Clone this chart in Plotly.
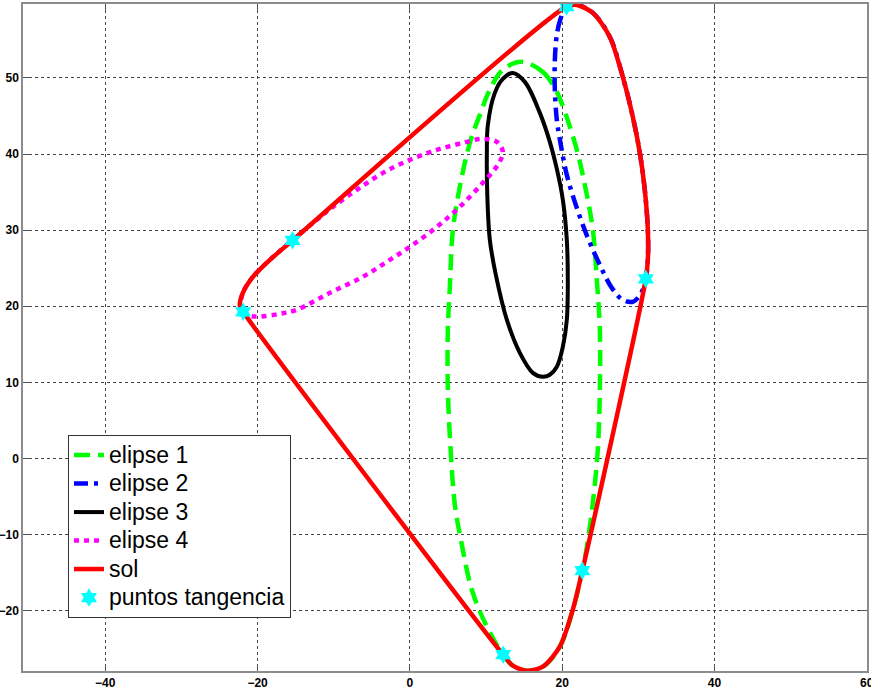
import plotly.graph_objects as go

# ---- data ----
elipse1_x = [14.70, 17.46, 19.30, 20.48, 21.93, 23.11, 24.03, 24.55, 24.95, 24.95, 24.68, 24.03, 23.24, 22.65,
             21.40, 19.69, 17.46, 15.36, 13.52, 12.25, 10.11, 8.14, 6.83, 5.91, 5.38, 4.99, 4.99, 5.25, 5.65,
             6.56, 7.88, 9.19, 10.50, 12.21, 14.70]
elipse1_y = [52.10, 50.78, 48.16, 45.14, 40.54, 35.29, 30.04, 23.47, 16.91, 9.03, 1.16, -5.80, -11.58, -14.73,
             -19.85, -24.71, -27.33, -27.86, -27.20, -25.76, -22.08, -17.23, -11.32, -6.07, 0.76, 9.03, 16.91,
             22.56, 30.04, 35.68, 41.46, 45.14, 48.42, 51.05, 52.10]

elipse2_x = [20.57, 19.82, 19.30, 19.04, 19.04, 19.30, 19.82, 20.61, 21.79, 23.37, 24.95, 26.52, 27.96, 29.28,
             30.33, 30.98, 31.25, 31.25, 30.85, 30.20, 29.28, 27.96, 26.26, 24.03, 21.93, 20.57]
elipse2_y = [59.36, 57.87, 55.64, 52.36, 48.42, 44.48, 41.20, 37.26, 33.32, 28.99, 25.44, 22.42, 20.85, 20.59,
             21.64, 23.61, 26.10, 30.04, 35.29, 40.15, 44.87, 50.13, 55.38, 58.53, 59.58, 59.36]

elipse3_x = [13.52, 15.10, 17.07, 18.38, 19.30, 20.09, 20.61, 20.74, 20.61, 20.09, 19.30, 18.38, 17.46, 16.15,
             14.44, 12.74, 11.29, 10.50, 10.17, 10.11, 10.24, 11.16, 12.21, 13.52]
elipse3_y = [50.65, 49.47, 45.40, 41.60, 38.04, 33.98, 28.73, 23.47, 18.22, 14.68, 12.05, 11.00, 10.74, 11.26,
             13.89, 18.22, 24.13, 28.73, 34.63, 40.15, 43.82, 48.03, 49.86, 50.65]

elipse4_x = [-22.19, -21.93, -21.01, -19.69, -17.07, -14.84, -10.50, -6.17, -2.63, 0.39, 3.54, 6.56, 9.58,
             11.55, 12.21, 11.42, 9.58, 6.96, 3.54, 0.00, -3.54, -6.96, -10.11, -12.21, -15.36, -18.38, -20.61,
             -21.93, -22.19]
elipse4_y = [20.19, 19.27, 18.75, 18.66, 19.01, 19.54, 21.77, 23.87, 26.10, 28.07, 30.43, 33.06, 36.21,
             38.57, 40.28, 41.59, 41.99, 41.46, 40.54, 39.23, 37.52, 35.29, 33.06, 31.35, 28.73, 26.10, 23.87,
             21.77, 20.19]

sol_x = [20.57, 21.93, 24.03, 26.26, 27.96, 29.28, 30.20, 30.85, 31.25, 31.25, 30.98, 22.65, 21.40, 19.69,
         17.46, 15.36, 13.52, 12.25, -21.89, -22.32, -21.93, -20.61, -18.38, -15.40, 20.57]
sol_y = [59.36, 59.58, 58.53, 55.38, 50.13, 44.87, 40.15, 35.29, 30.04, 26.10, 23.61, -14.73, -19.85, -24.71,
         -27.33, -27.86, -27.20, -25.76, 19.27, 20.06, 21.77, 23.87, 26.10, 28.66, 59.36]

tang_x = [20.57, 30.98, 22.65, 12.25, -21.89, -15.40]
tang_y = [59.36, 23.61, -14.73, -25.76, 19.27, 28.66]

x_ticks = [-40, -20, 0, 20, 40, 60]
y_ticks = [-20, -10, 0, 10, 20, 30, 40, 50]


def lg(name):
    return '<span style="font-size:23px">' + name + '</span>'


fig = go.Figure()
fig.add_trace(go.Scatter(x=elipse1_x, y=elipse1_y, mode="lines", name=lg("elipse 1"),
                         line=dict(color="#00ff00", width=4.5, dash="16px,8px", shape="spline", smoothing=1)))
fig.add_trace(go.Scatter(x=elipse2_x, y=elipse2_y, mode="lines", name=lg("elipse 2"),
                         line=dict(color="#0000ff", width=4.5, dash="14px,6px,4px,6px", shape="spline", smoothing=1)))
fig.add_trace(go.Scatter(x=elipse3_x, y=elipse3_y, mode="lines", name=lg("elipse 3"),
                         line=dict(color="#000000", width=4, shape="spline", smoothing=1)))
fig.add_trace(go.Scatter(x=elipse4_x, y=elipse4_y, mode="lines", name=lg("elipse 4"),
                         line=dict(color="#ff00ff", width=4.5, dash="5px,5px", shape="spline", smoothing=1)))
fig.add_trace(go.Scatter(x=sol_x, y=sol_y, mode="lines", name=lg("sol"),
                         line=dict(color="#ff0000", width=4.5, shape="spline", smoothing=0.8)))
fig.add_trace(go.Scatter(x=tang_x, y=tang_y, mode="markers", name=lg("puntos tangencia"),
                         marker=dict(symbol="hexagram", color="#00ffff", size=14, line=dict(width=0))))

axis_common = dict(
    showgrid=True, gridcolor="#444444", griddash="dot", gridwidth=1,
    zeroline=False, showline=True, linecolor="#8c8c8c", linewidth=1.5, mirror="ticks",
    ticks="inside", ticklen=7, tickcolor="#555555", tickwidth=1, automargin=False,
    tickfont=dict(family="Liberation Sans", size=12, color="black", weight="bold"),
)
fig.update_xaxes(range=[-50.8, 60.03], tickvals=x_ticks, ticklabeloverflow="allow", **axis_common)
fig.update_yaxes(range=[-27.9, 59.7], tickvals=y_ticks, ticklabelstandoff=0, **axis_common)

fig.update_layout(
    width=871, height=691,
    margin=dict(l=23, r=4, t=4, b=20),
    plot_bgcolor="white", paper_bgcolor="white",
    showlegend=True,
    legend=dict(x=0.0533, y=0.354, xanchor="left", yanchor="top",
                bgcolor="white", bordercolor="#333333", borderwidth=1,
                font=dict(family="Liberation Sans", size=19.6, color="black"),
                tracegroupgap=0),
)

fig.write_html("out.html")
